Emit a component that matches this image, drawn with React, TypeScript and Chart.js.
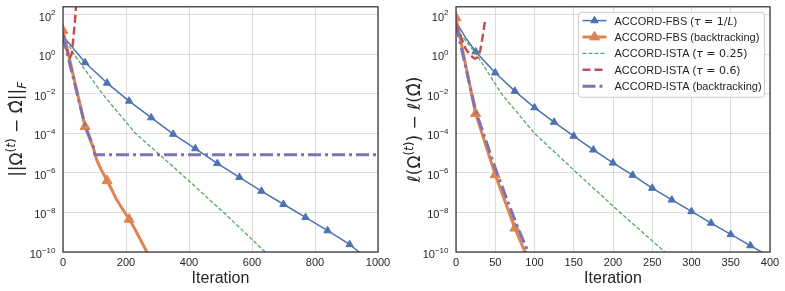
import React, { useEffect, useRef } from 'react';
import { Chart, registerables } from 'chart.js';

Chart.register(...registerables);

const SANS = '"Liberation Sans", Arial, Helvetica, sans-serif';
const MATH = '"DejaVu Sans", sans-serif';

const SERIES_NAMES = [
  'ACCORD-FBS (τ = 1/L)',
  'ACCORD-FBS (backtracking)',
  'ACCORD-ISTA (τ = 0.25)',
  'ACCORD-ISTA (τ = 0.6)',
  'ACCORD-ISTA (backtracking)',
];

const LEFT_X_TICKS = [0, 200, 400, 600, 800, 1000];
const RIGHT_X_TICKS = [0, 50, 100, 150, 200, 250, 300, 350, 400];
const Y_TICKS = [1e2, 1e0, 1e-2, 1e-4, 1e-6, 1e-8, 1e-10];
const Y_TICK_EXPONENTS = ['2', '0', '−2', '−4', '−6', '−8', '−10'];

// ---- Left panel: ||Omega(t) - Omega_hat||_F ----
const L_FBS_IT = [0, 70, 140, 210, 280, 350, 420, 490, 560, 630, 700, 770, 840, 910, 940, 960];
const L_FBS_VAL = [8.5, 0.38, 3.5e-2, 4.3e-3, 6.2e-4, 9.1e-5, 1.7e-5, 3.0e-6, 6.0e-7, 1.2e-7, 2.6e-8, 5.6e-9, 1.2e-9, 2.4e-10, 1.0e-10, 5.0e-11];
const L_FBS_MARK = [70, 140, 210, 280, 350, 420, 490, 560, 630, 700, 770, 840, 910];

const L_FBSBT_IT = [0, 70, 96, 107, 120, 140, 155, 170, 190, 210, 225, 240, 255, 266, 280];
const L_FBSBT_VAL = [16, 2.2e-4, 1.9e-5, 4.5e-6, 1.6e-6, 4.0e-7, 1.4e-7, 4.5e-8, 1.4e-8, 4.5e-9, 1.8e-9, 6.3e-10, 2.2e-10, 1.0e-10, 4.0e-11];
const L_FBSBT_MARK = [0, 70, 140, 210];

const L_ISTA25_IT = [0, 35, 125, 230, 372, 510, 642, 660];
const L_ISTA25_VAL = [9, 1, 1e-2, 1e-4, 1e-6, 1e-8, 1e-10, 5.4e-11];

const L_ISTA6_IT = [0, 10, 22, 28, 33, 38, 42, 46];
const L_ISTA6_VAL = [10, 2.0, 0.66, 1.1, 6.3, 50, 400, 3200];

const L_ISTABT_IT = [0, 70, 96, 101, 1000];
const L_ISTABT_VAL = [8, 2.5e-4, 2.2e-5, 8.2e-6, 8.2e-6];

// ---- Right panel: l(Omega(t)) - l(Omega_hat) ----
const R_FBS_IT = [0, 12, 25, 50, 75, 100, 125, 150, 175, 200, 225, 250, 275, 300, 325, 350, 375, 390, 400];
const R_FBS_VAL = [45, 7.1, 1.36, 0.116, 1.36e-2, 2.0e-3, 3.7e-4, 7.3e-5, 1.46e-5, 3.2e-6, 7.7e-7, 1.7e-7, 4.3e-8, 1.12e-8, 2.9e-9, 7.7e-10, 2.1e-10, 9.5e-11, 5.6e-11];
const R_FBS_MARK = [25, 50, 75, 100, 125, 150, 175, 200, 225, 250, 275, 300, 325, 350, 375];

const R_FBSBT_IT = [0, 25, 50, 75, 88, 92];
const R_FBSBT_VAL = [70, 1.0e-3, 8e-7, 1.6e-9, 1e-10, 4.5e-11];
const R_FBSBT_MARK = [0, 25, 50, 75];

const R_ISTA25_IT = [0, 26, 58, 100, 154, 209, 266, 275];
const R_ISTA25_VAL = [20, 1, 1e-2, 1e-4, 1e-6, 1e-8, 1e-10, 5e-11];

const R_ISTA6_IT = [0, 6, 12, 18, 24, 28, 31, 34, 37];
const R_ISTA6_VAL = [35, 7.9, 2.0, 0.89, 0.6, 0.71, 1.6, 7.9, 50];

const R_ISTABT_IT = [0, 25, 53, 79, 92, 95];
const R_ISTABT_VAL = [32, 1.4e-3, 8e-7, 1.6e-9, 1e-10, 5e-11];

const STYLES = [
  { color: '#4C72B0', width: 1.5, dash: [] as number[], r: 4.3 },
  { color: '#DD8452', width: 3, dash: [] as number[], r: 5.8 },
  { color: '#55A868', width: 1.3, dash: [4, 2], r: 0 },
  { color: '#C44E52', width: 2.5, dash: [8, 4], r: 0 },
  { color: '#8172B3', width: 3, dash: [13, 4, 3, 4], r: 0 },
];

type Seg = { t: string; f: string; dy?: number };

function richWidth(ctx: CanvasRenderingContext2D, segs: Seg[]) {
  let w = 0;
  for (const s of segs) {
    ctx.font = s.f;
    w += ctx.measureText(s.t).width;
  }
  return w;
}

function drawRich(ctx: CanvasRenderingContext2D, segs: Seg[], x: number, y: number) {
  let cx = x;
  for (const s of segs) {
    ctx.font = s.f;
    ctx.fillText(s.t, cx, y + (s.dy || 0));
    cx += ctx.measureText(s.t).width;
  }
}

function triangle(ctx: CanvasRenderingContext2D, x: number, y: number, r: number, color: string) {
  ctx.save();
  ctx.setLineDash([]);
  ctx.fillStyle = color;
  ctx.strokeStyle = color;
  ctx.lineWidth = 1;
  ctx.beginPath();
  let rad = 0;
  ctx.moveTo(x + Math.sin(rad) * r, y - Math.cos(rad) * r);
  rad += (2 * Math.PI) / 3;
  ctx.lineTo(x + Math.sin(rad) * r, y - Math.cos(rad) * r);
  rad += (2 * Math.PI) / 3;
  ctx.lineTo(x + Math.sin(rad) * r, y - Math.cos(rad) * r);
  ctx.closePath();
  ctx.fill();
  ctx.stroke();
  ctx.restore();
}

const S11 = `11px ${SANS}`;
const M11 = `11px ${MATH}`;
const MI11 = `italic 11px ${MATH}`;

const LEGEND_SEGS: Seg[][] = [
  [{ t: 'ACCORD-FBS (', f: S11 }, { t: 'τ', f: MI11 }, { t: ' = 1/', f: M11 }, { t: 'L', f: MI11 }, { t: ')', f: S11 }],
  [{ t: 'ACCORD-FBS (backtracking)', f: S11 }],
  [{ t: 'ACCORD-ISTA (', f: S11 }, { t: 'τ', f: MI11 }, { t: ' = 0.25', f: M11 }, { t: ')', f: S11 }],
  [{ t: 'ACCORD-ISTA (', f: S11 }, { t: 'τ', f: MI11 }, { t: ' = 0.6', f: M11 }, { t: ')', f: S11 }],
  [{ t: 'ACCORD-ISTA (backtracking)', f: S11 }],
];

const M17 = `17px ${MATH}`;
const M12 = `12px ${MATH}`;
const MI12 = `italic 12px ${MATH}`;

const LEFT_TITLE: Seg[] = [
  { t: '||Ω', f: M17 },
  { t: '(', f: M12, dy: -7 },
  { t: 't', f: MI12, dy: -7 },
  { t: ')', f: M12, dy: -7 },
  { t: ' − ', f: M17 },
  { t: 'Ω\u0302', f: M17 },
  { t: '||', f: M17 },
  { t: 'F', f: MI12, dy: 4 },
];

const RIGHT_TITLE: Seg[] = [
  { t: 'ℓ(Ω', f: M17 },
  { t: '(', f: M12, dy: -7 },
  { t: 't', f: MI12, dy: -7 },
  { t: ')', f: M12, dy: -7 },
  { t: ') − ℓ(Ω\u0302)', f: M17 },
];

type PanelCfg = {
  xMax: number;
  xTicks: number[];
  width: number;
  yWidth: number;
  padRight: number;
  titleX: number;
  title: Seg[];
  legend: boolean;
  series: { it: number[]; val: number[]; marks: number[] }[];
};

const LEFT_CFG: PanelCfg = {
  xMax: 1000,
  xTicks: LEFT_X_TICKS,
  width: 392,
  yWidth: 63,
  padRight: 14,
  titleX: 22,
  title: LEFT_TITLE,
  legend: false,
  series: [
    { it: L_FBS_IT, val: L_FBS_VAL, marks: L_FBS_MARK },
    { it: L_FBSBT_IT, val: L_FBSBT_VAL, marks: L_FBSBT_MARK },
    { it: L_ISTA25_IT, val: L_ISTA25_VAL, marks: [] },
    { it: L_ISTA6_IT, val: L_ISTA6_VAL, marks: [] },
    { it: L_ISTABT_IT, val: L_ISTABT_VAL, marks: [] },
  ],
};

const RIGHT_CFG: PanelCfg = {
  xMax: 400,
  xTicks: RIGHT_X_TICKS,
  width: 393,
  yWidth: 64,
  padRight: 15,
  titleX: 28,
  title: RIGHT_TITLE,
  legend: true,
  series: [
    { it: R_FBS_IT, val: R_FBS_VAL, marks: R_FBS_MARK },
    { it: R_FBSBT_IT, val: R_FBSBT_VAL, marks: R_FBSBT_MARK },
    { it: R_ISTA25_IT, val: R_ISTA25_VAL, marks: [] },
    { it: R_ISTA6_IT, val: R_ISTA6_VAL, marks: [] },
    { it: R_ISTABT_IT, val: R_ISTABT_VAL, marks: [] },
  ],
};

function makeDecor(cfg: PanelCfg) {
  return {
    id: 'decor',
    beforeDraw(chart: any) {
      const ctx = chart.ctx as CanvasRenderingContext2D;
      ctx.save();
      ctx.fillStyle = '#ffffff';
      ctx.fillRect(0, 0, chart.width, chart.height);
      ctx.restore();
    },
    afterDraw(chart: any) {
      const ctx = chart.ctx as CanvasRenderingContext2D;
      const a = chart.chartArea;
      const xs = chart.scales.x;
      const ys = chart.scales.y;
      ctx.save();
      ctx.strokeStyle = '#333333';
      ctx.lineWidth = 1.25;
      ctx.setLineDash([]);
      ctx.strokeRect(a.left, a.top, a.right - a.left, a.bottom - a.top);

      ctx.fillStyle = '#262626';
      ctx.textBaseline = 'alphabetic';
      Y_TICKS.forEach((v, i) => {
        const py = ys.getPixelForValue(v);
        const segs: Seg[] = [
          { t: '10', f: `11px ${SANS}` },
          { t: Y_TICK_EXPONENTS[i], f: `8px ${SANS}`, dy: -5.5 },
        ];
        const w = richWidth(ctx, segs);
        drawRich(ctx, segs, a.left - 7.5 - w, py + 6);
      });
      ctx.font = `11px ${SANS}`;
      ctx.textAlign = 'center';
      cfg.xTicks.forEach((v) => {
        ctx.fillText(String(v), xs.getPixelForValue(v), a.bottom + 13.5);
      });
      ctx.font = `16px ${SANS}`;
      ctx.fillText('Iteration', (a.left + a.right) / 2, a.bottom + 31);
      ctx.textAlign = 'left';
      const tw = richWidth(ctx, cfg.title);
      ctx.save();
      ctx.translate(cfg.titleX, (a.top + a.bottom) / 2);
      ctx.rotate(-Math.PI / 2);
      drawRich(ctx, cfg.title, -tw / 2, 0);
      ctx.restore();

      if (cfg.legend) {
        const bw = 186;
        const bh = 85;
        const bx = a.right - 5.5 - bw;
        const by = a.top + 5.5;
        ctx.beginPath();
        (ctx as any).roundRect(bx, by, bw, bh, 3);
        ctx.fillStyle = 'rgba(255,255,255,0.85)';
        ctx.fill();
        ctx.strokeStyle = '#cccccc';
        ctx.lineWidth = 1;
        ctx.stroke();
        LEGEND_SEGS.forEach((segs, i) => {
          const st = STYLES[i];
          const cy = by + 8.3 + i * 16.4;
          ctx.save();
          ctx.strokeStyle = st.color;
          ctx.lineWidth = st.width;
          ctx.setLineDash(st.dash);
          ctx.lineCap = 'butt';
          ctx.beginPath();
          ctx.moveTo(bx + 4, cy);
          ctx.lineTo(bx + 28, cy);
          ctx.stroke();
          ctx.restore();
          if (st.r) triangle(ctx, bx + 16, cy, st.r, st.color);
          ctx.fillStyle = '#262626';
          drawRich(ctx, segs, bx + 36, cy + 4);
        });
      }
      ctx.restore();
    },
  };
}

function Panel({ cfg, left }: { cfg: PanelCfg; left: number }) {
  const ref = useRef<HTMLCanvasElement>(null);
  useEffect(() => {
    const datasets = cfg.series.map((s, i) => ({
      label: SERIES_NAMES[i],
      data: s.it.map((x, j) => ({ x, y: s.val[j] })),
      borderColor: STYLES[i].color,
      backgroundColor: STYLES[i].color,
      pointBackgroundColor: STYLES[i].color,
      pointBorderColor: STYLES[i].color,
      borderWidth: STYLES[i].width,
      borderDash: STYLES[i].dash,
      borderCapStyle: 'butt' as const,
      borderJoinStyle: 'round' as const,
      pointStyle: 'triangle' as const,
      pointRadius: s.it.map((x) => (s.marks.includes(x) ? STYLES[i].r : 0)),
      pointBorderWidth: 1,
      pointHoverRadius: 0,
      pointHitRadius: 0,
      tension: 0,
      fill: false,
      clip: 0,
      order: 4 - i,
    }));
    const chart = new Chart(ref.current as HTMLCanvasElement, {
      type: 'line',
      data: { datasets } as any,
      options: {
        animation: false,
        responsive: false,
        devicePixelRatio: 1,
        events: [],
        layout: { padding: { top: 4, right: cfg.padRight, left: 0, bottom: 0 } },
        plugins: { legend: { display: false }, tooltip: { enabled: false } },
        scales: {
          x: {
            type: 'linear',
            min: 0,
            max: cfg.xMax,
            afterBuildTicks: (s: any) => {
              s.ticks = cfg.xTicks.map((v) => ({ value: v }));
            },
            afterFit: (s: any) => {
              s.height = 39;
            },
            ticks: { display: false },
            grid: { color: '#dcdcdc', lineWidth: 1, drawTicks: false },
            border: { display: false },
          },
          y: {
            type: 'logarithmic',
            min: 1e-10,
            max: Math.pow(10, 2.4),
            afterBuildTicks: (s: any) => {
              s.ticks = Y_TICKS.map((v) => ({ value: v }));
            },
            afterFit: (s: any) => {
              s.width = cfg.yWidth;
            },
            ticks: { display: false },
            grid: { color: '#dcdcdc', lineWidth: 1, drawTicks: false },
            border: { display: false },
          },
        },
      } as any,
      plugins: [makeDecor(cfg)],
    });
    return () => chart.destroy();
  }, []);
  return (
    <canvas
      ref={ref}
      width={cfg.width}
      height={291}
      style={{ position: 'absolute', left, top: 0, width: cfg.width, height: 291, display: 'block' }}
    />
  );
}

export default function App() {
  return (
    <div style={{ position: 'fixed', left: 0, top: 0, width: 785, height: 291, background: '#ffffff', overflow: 'hidden' }}>
      <Panel cfg={LEFT_CFG} left={0} />
      <Panel cfg={RIGHT_CFG} left={392} />
    </div>
  );
}
